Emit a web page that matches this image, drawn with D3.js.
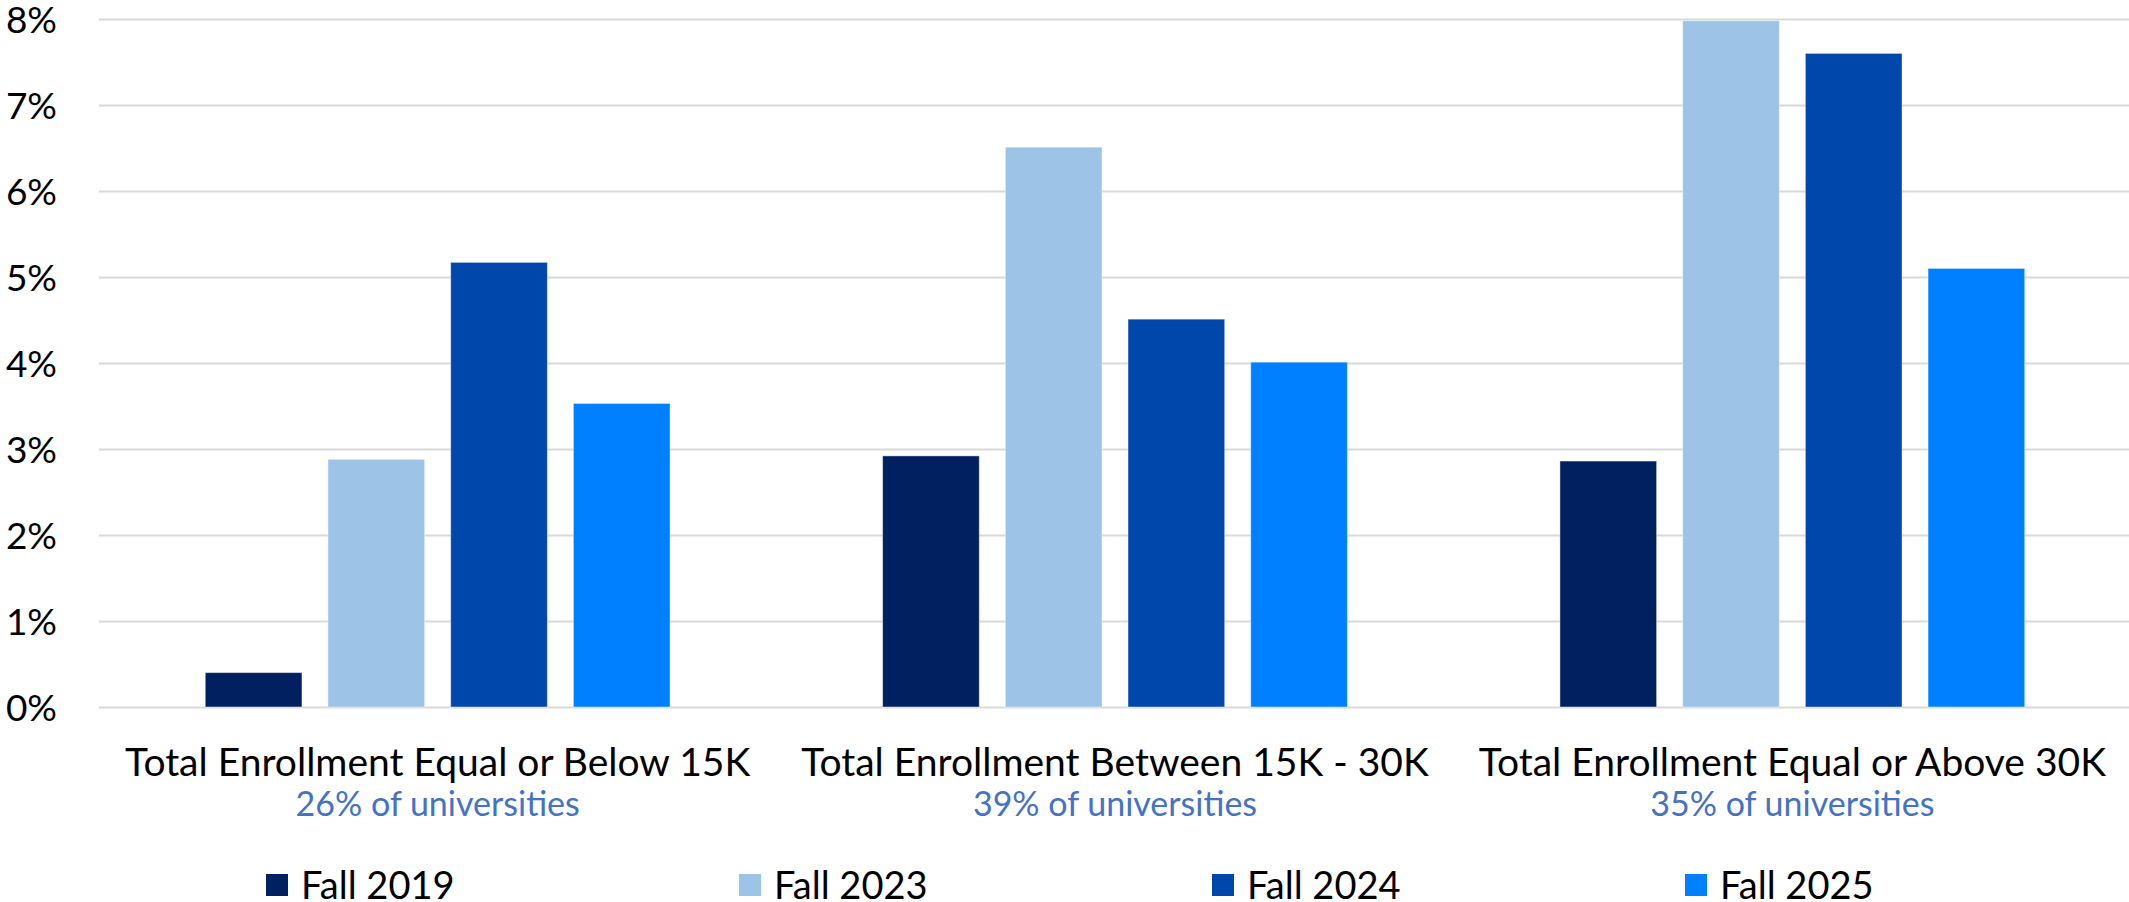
<!DOCTYPE html>
<html>
<head>
<meta charset="utf-8">
<script src="https://cdn.jsdelivr.net/npm/d3@7"></script>
<style>
  html, body { margin: 0; padding: 0; background: #ffffff; }
  svg { display: block; }
  text { font-family: Lato, "Open Sans", sans-serif; }
</style>
</head>
<body>
<div id="chart"></div>
<script>
// Enrollment-size groups and the share of universities in each
const categories = [
  "Total Enrollment Equal or Below 15K",
  "Total Enrollment Between 15K - 30K",
  "Total Enrollment Equal or Above 30K"
];
const shareLabels = ["26% of universities", "39% of universities", "35% of universities"];

// Terms compared within each group
const seriesNames = ["Fall 2019", "Fall 2023", "Fall 2024", "Fall 2025"];
const seriesColors = ["#002060", "#9dc3e6", "#0047ab", "#0080ff"];

// Values (percent), one array per term, in category order
const fall2019 = [0.40, 2.92, 2.86];
const fall2023 = [2.88, 6.51, 7.98];
const fall2024 = [5.17, 4.51, 7.60];
const fall2025 = [3.53, 4.01, 5.10];
const seriesValues = [fall2019, fall2023, fall2024, fall2025];

// Y axis tick values (percent)
const yTicks = [0, 1, 2, 3, 4, 5, 6, 7, 8];

const W = 2129, H = 902;
const plot = { left: 99, right: 2131, top: 19, bottom: 707 };

const svg = d3.select("#chart").append("svg")
  .attr("width", W).attr("height", H);

const y = d3.scaleLinear().domain([0, 8]).range([plot.bottom, plot.top]);

const x0 = d3.scaleBand()
  .domain(categories)
  .range([plot.left, plot.right])
  .paddingInner(0).paddingOuter(0);

const x1 = d3.scaleBand()
  .domain(seriesNames)
  .range([0, x0.bandwidth()])
  .paddingInner(0.212)
  .paddingOuter(0.866);

// Horizontal gridlines
svg.append("g")
  .attr("transform", `translate(${plot.left},0)`)
  .call(d3.axisLeft(y).tickValues(yTicks).tickSize(-(W - plot.left)).tickFormat(""))
  .call(g => g.select(".domain").remove())
  .call(g => g.selectAll(".tick line").attr("stroke", "#d9d9d9").attr("stroke-width", 2));

// Y tick labels
svg.append("g")
  .attr("transform", `translate(${plot.left},0)`)
  .call(d3.axisLeft(y).tickValues(yTicks).tickSize(0).tickPadding(42).tickFormat(d => d + "%"))
  .call(g => g.select(".domain").remove())
  .call(g => g.selectAll(".tick text")
    .attr("fill", "#000000")
    .style("font-family", "Lato, 'Open Sans', sans-serif")
    .style("font-size", "37px")
    .attr("dy", "0.36em"));

// Bars
const rows = categories.map((c, i) => ({
  category: c,
  values: seriesNames.map((s, j) => ({ series: s, value: seriesValues[j][i], color: seriesColors[j] }))
}));

const groups = svg.append("g").selectAll("g")
  .data(rows).join("g")
  .attr("transform", d => `translate(${x0(d.category)},0)`);

groups.selectAll("rect")
  .data(d => d.values).join("rect")
  .attr("x", d => x1(d.series))
  .attr("y", d => y(d.value))
  .attr("width", x1.bandwidth())
  .attr("height", d => y(0) - y(d.value))
  .attr("fill", d => d.color)
  .attr("stroke", "rgba(255,255,255,0.45)")
  .attr("stroke-width", 1);

// Category labels with the share of universities underneath
const catLabels = svg.append("g").selectAll("g")
  .data(categories).join("g")
  .attr("transform", d => `translate(${x0(d) + x0.bandwidth() / 2},0)`);

catLabels.append("text")
  .attr("y", 776)
  .attr("text-anchor", "middle")
  .attr("fill", "#000000")
  .style("font-size", "39px")
  .text(d => d);

catLabels.append("text")
  .attr("y", 816)
  .attr("text-anchor", "middle")
  .attr("fill", "#4472c4")
  .style("font-size", "34px")
  .text((d, i) => shareLabels[i]);

// Legend
const legendX = d3.scalePoint().domain(seriesNames).range([266, 1685]);
const legend = svg.append("g").selectAll("g")
  .data(seriesNames).join("g")
  .attr("transform", d => `translate(${legendX(d)},0)`);

legend.append("rect")
  .attr("x", 0).attr("y", 874)
  .attr("width", 22).attr("height", 22)
  .attr("fill", (d, i) => seriesColors[i]);

legend.append("text")
  .attr("x", 35).attr("y", 899)
  .attr("fill", "#000000")
  .style("font-size", "38px")
  .text(d => d);
</script>
</body>
</html>
